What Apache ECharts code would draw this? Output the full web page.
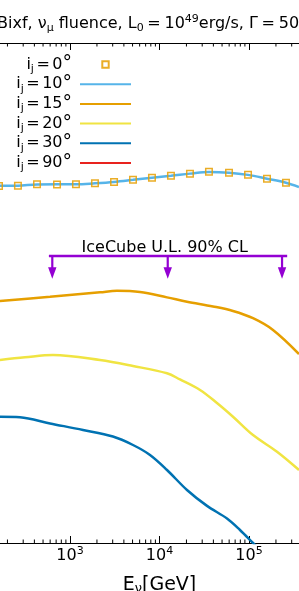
<!DOCTYPE html>
<html><head><meta charset="utf-8">
<script src="https://cdn.jsdelivr.net/npm/echarts@6/dist/echarts.min.js"></script>
<style>html,body{margin:0;padding:0;background:#fff}#c{width:299px;height:591px}</style>
</head><body><div id="c"></div>
<script>
// ---- data (E in GeV, fluence in GeV cm^-2) ----
const energy0  = [161, 262, 428, 716, 1166, 1901, 3105, 5058, 8241, 13430, 21900, 35700, 59800, 97500, 158900, 258900];
const fluence0 = [0.0372, 0.0374, 0.0386, 0.0385, 0.0386, 0.0396, 0.0407, 0.0429, 0.0449, 0.0470, 0.0493, 0.0515, 0.0504, 0.0481, 0.0439, 0.0400];

const energy10  = [161, 262, 428, 716, 1166, 1901, 3105, 5058, 8241, 13430, 21900, 35700, 59800, 97500, 158900, 258900, 362000];
const fluence10 = [0.0373, 0.0374, 0.0385, 0.0386, 0.0386, 0.0395, 0.0408, 0.0428, 0.0450, 0.0470, 0.0494, 0.0514, 0.0505, 0.0480, 0.0440, 0.0401, 0.0363];

const energy15  = [165, 598, 2163, 3350, 6053, 12130, 20280, 39630, 66240, 110900, 185500, 362000];
const fluence15 = [2.63e-3, 2.90e-3, 3.21e-3, 3.33e-3, 3.24e-3, 2.86e-3, 2.59e-3, 2.32e-3, 2.09e-3, 1.77e-3, 1.35e-3, 7.76e-4];

const energy20  = [165, 314, 646, 2163, 5058, 12130, 16940, 28370, 43860, 66240, 110900, 205600, 362000];
const fluence20 = [6.76e-4, 7.19e-4, 7.59e-4, 6.76e-4, 5.89e-4, 4.98e-4, 4.32e-4, 3.39e-4, 2.51e-4, 1.83e-4, 1.20e-4, 8.18e-5, 5.37e-5];

const energy30  = [165, 276, 598, 1397, 3017, 5058, 7832, 12130, 20280, 33960, 56800, 79300, 110900, 171700];
const fluence30 = [1.83e-4, 1.81e-4, 1.57e-4, 1.35e-4, 1.16e-4, 9.55e-5, 7.59e-5, 5.37e-5, 3.39e-5, 2.35e-5, 1.76e-5, 1.35e-5, 1.00e-5, 6.76e-6];

const energy90  = [];
const fluence90 = [];

const angles = ['0', '10', '15', '20', '30', '90'];
const ulEnergyRange = [581, 267000];
const ulArrowEnergy = [634, 12360, 234000];
const ulFluence = 7.41e-3;
const ulLabel = 'IceCube U.L. 90% CL';
const tickDecades = [100, 1000, 10000, 100000, 1000000];
const minorMultipliers = [2, 3, 4, 5, 6, 7, 8, 9];

// ---- styles ----
const FONT = 'DejaVu Sans';
const PURPLE = '#9400D3';
const colors = {'0': '#E69F00', '10': '#56B4E9', '15': '#E69F00', '20': '#F0E442', '30': '#0072B2', '90': '#E8231E'};
const pairs = (xs, ys) => xs.map((x, i) => [x, ys[i]]);
const nm = a => 'i_j=' + a + '°';

const minorTickE = [];
tickDecades.slice(0, -1).forEach(d => minorMultipliers.forEach(m => minorTickE.push(d * m)));

function lineSeries(a, xs, ys) {
  return {
    name: nm(a), type: 'line', data: pairs(xs, ys), symbol: 'none', smooth: 0.35,
    lineStyle: {color: colors[a], width: 2.5}, itemStyle: {color: colors[a]}, z: 3
  };
}

const chart = echarts.init(document.getElementById('c'));
const axisCommon = {
  type: 'log', logBase: 10, min: 100, max: 1000000,
  axisLine: {show: true, lineStyle: {color: '#000', width: 1}},
  axisTick: {show: true, inside: true, length: 7, lineStyle: {color: '#000', width: 1}},
  splitLine: {show: false}, minorTick: {show: false}
};
const tx = (size, extra) => Object.assign({fontFamily: FONT, fontSize: size, fontWeight: 'normal', color: '#000'}, extra || {});

chart.setOption({
  animation: false,
  backgroundColor: '#fff',
  title: {
    text: '{t|Bixf, ν}{s|μ}{t| fluence, L}{s|0}{e|=}{t|10}{p|49}{t|erg/s, Γ}{e|=}{t|50}',
    left: -3, top: 14, padding: 0,
    textStyle: {
      fontWeight: 'normal',
      rich: {
        t: tx(16, {lineHeight: 20}),
        e: tx(16, {lineHeight: 20, padding: [0, 3.7]}),
        s: tx(11, {lineHeight: 8, verticalAlign: 'bottom'}),
        p: tx(11, {lineHeight: 8, verticalAlign: 'top'})
      }
    }
  },
  legend: {
    data: angles.map(a => ({name: nm(a), itemStyle: a === '0' ? {} : {opacity: 0}})),
    orient: 'vertical', align: 'right', right: 167, top: 55, padding: 0,
    itemWidth: 51, itemHeight: 8, itemGap: 0.2, selectedMode: false,
    formatter: name => {
      const d = name.replace('i_j=', '').replace('°', '');
      return '{t|i}{s|j}{e|=}{t|' + d + '}{d|°}';
    },
    textStyle: {
      rich: {
        t: tx(16, {lineHeight: 20}),
        s: tx(11, {lineHeight: 8, verticalAlign: 'bottom'}),
        e: tx(16, {lineHeight: 20, padding: [0, 2.5]}),
        d: tx(19, {lineHeight: 20, padding: [0, 3, 0, 0]})
      }
    }
  },
  grid: {left: -19.5, top: 43, width: 358, height: 500, containLabel: false, outerBoundsMode: 'none'},
  xAxis: [
    Object.assign({}, axisCommon, {
      position: 'bottom',
      name: '{t|E}{s|ν}{t|[GeV]}', nameLocation: 'middle', nameGap: 32, nameMoveOverlap: false,
      nameTextStyle: {
        rich: {
          t: tx(19, {lineHeight: 20}),
          s: tx(13, {lineHeight: 8, verticalAlign: 'bottom'})
        }
      },
      axisLabel: {
        show: true, margin: 3,
        formatter: v => '{b|10}{p|' + Math.round(Math.log10(v)) + '}',
        rich: {
          b: tx(16, {lineHeight: 20}),
          p: tx(11, {lineHeight: 8, verticalAlign: 'top'})
        }
      }
    }),
    Object.assign({}, axisCommon, {position: 'top', axisLabel: {show: false}})
  ],
  yAxis: {type: 'log', logBase: 10, min: 1e-5, max: 1, show: false},
  series: [
    lineSeries('10', energy10, fluence10),
    {
      name: nm('0'), type: 'line', data: pairs(energy0, fluence0), symbol: 'rect', symbolSize: 6.5,
      lineStyle: {color: 'rgba(0,0,0,0)', width: 0},
      itemStyle: {color: 'rgba(0,0,0,0)', borderColor: 'rgba(230,159,0,0.85)', borderWidth: 1.5}, z: 4
    },
    lineSeries('15', energy15, fluence15),
    lineSeries('20', energy20, fluence20),
    lineSeries('30', energy30, fluence30),
    lineSeries('90', energy90, fluence90),
    {
      name: 'UL', type: 'line', data: ulEnergyRange.map(e => [e, ulFluence]), symbol: 'none',
      lineStyle: {color: PURPLE, width: 2.5}, z: 5
    },
    {
      name: 'ULarrows', type: 'custom', data: ulArrowEnergy.map(e => [e, ulFluence]), z: 5,
      renderItem: (params, api) => {
        const p = api.coord([api.value(0), api.value(1)]);
        const L = 22.7, hw = 4.2, hh = 11.5;
        const kids = [
          {type: 'line', shape: {x1: p[0], y1: p[1], x2: p[0], y2: p[1] + L - hh + 1}, style: {stroke: PURPLE, lineWidth: 2.2}},
          {type: 'polygon', shape: {points: [[p[0] - hw, p[1] + L - hh], [p[0] + hw, p[1] + L - hh], [p[0], p[1] + L]]}, style: {fill: PURPLE}}
        ];
        if (params.dataIndex === 1) {
          kids.push({type: 'text', x: p[0] - 3, y: p[1] - 8.5, style: {text: ulLabel, font: '16px "DejaVu Sans"', fill: '#000', align: 'center', verticalAlign: 'middle'}});
        }
        return {type: 'group', children: kids};
      }
    },
    {
      name: 'minorTicks', type: 'custom', data: minorTickE.map(e => [e, 0.01]), z: 6, silent: true,
      renderItem: (params, api) => {
        const x = api.coord([api.value(0), api.value(1)])[0];
        const cs = params.coordSys;
        const s = {stroke: '#000', lineWidth: 1};
        return {type: 'group', children: [
          {type: 'line', shape: {x1: x, y1: cs.y + cs.height, x2: x, y2: cs.y + cs.height - 3.5}, style: s},
          {type: 'line', shape: {x1: x, y1: cs.y, x2: x, y2: cs.y + 3.5}, style: s}
        ]};
      }
    }
  ]
});
</script></body></html>
